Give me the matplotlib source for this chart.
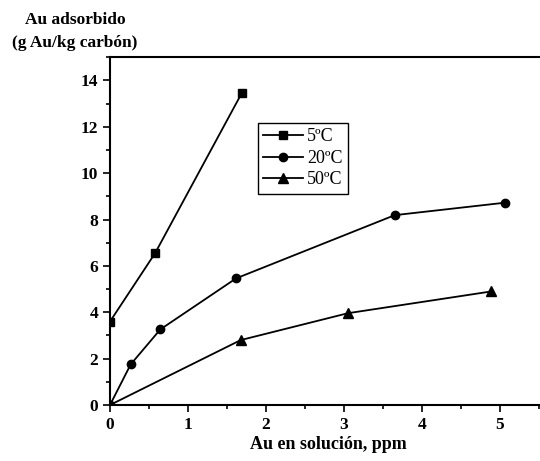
import matplotlib.pyplot as plt
from matplotlib.ticker import MultipleLocator

plt.rcParams['font.family'] = ['Liberation Serif', 'DejaVu Serif']

# Au adsorption data
x_5 = [0.0, 0.58, 1.69]
y_5 = [3.6, 6.56, 13.46]
x_20 = [0.0, 0.265, 0.645, 1.615, 3.65, 5.07]
y_20 = [0.0, 1.75, 3.26, 5.46, 8.19, 8.73]
x_50 = [0.0, 1.675, 3.05, 4.89]
y_50 = [0.0, 2.8, 3.96, 4.9]
labels = ['5ºC', '20ºC', '50ºC']

fig = plt.figure(figsize=(5.4, 4.61), dpi=100)
ax = fig.add_axes([110 / 540, 56 / 461, 5.6 * 78 / 540, 347.7 / 461])

ax.plot(x_5, y_5, 'k-', marker='s', ms=5.5, lw=1.3, label=labels[0])
ax.plot(x_20, y_20, 'k-', marker='o', ms=6, lw=1.3, label=labels[1])
ax.plot(x_50, y_50, 'k-', marker='^', ms=6.5, lw=1.3, label=labels[2])

ax.set_xlim(0, 5.6)
ax.set_ylim(0, 15)
ax.xaxis.set_major_locator(MultipleLocator(1))
ax.xaxis.set_minor_locator(MultipleLocator(0.5))
ax.yaxis.set_major_locator(MultipleLocator(2))
ax.yaxis.set_minor_locator(MultipleLocator(1))
ax.tick_params(which='both', direction='out', width=1.2)
ax.tick_params(which='major', length=5, labelsize=12.5)
ax.tick_params(which='minor', length=3)
for lbl in ax.get_xticklabels() + ax.get_yticklabels():
    lbl.set_fontweight('bold')
for sp in ax.spines.values():
    sp.set_linewidth(1.5)

ax.set_xlabel('Au en solución, ppm', fontsize=13, fontweight='bold', labelpad=2)
fig.text(75 / 540, 1 - 12 / 461, 'Au adsorbido\n(g Au/kg carbón)', ha='center', va='top',
         fontsize=12.5, fontweight='bold', linespacing=1.6)

leg = ax.legend(loc='upper left', bbox_to_anchor=(0.339, 0.811), borderaxespad=0,
                fancybox=False, edgecolor='black', fontsize=13, handlelength=2.2,
                handletextpad=0.2, borderpad=0.3, labelspacing=0.25, framealpha=1)
leg.get_frame().set_linewidth(1.0)

fig.savefig('out.png', dpi=100)
